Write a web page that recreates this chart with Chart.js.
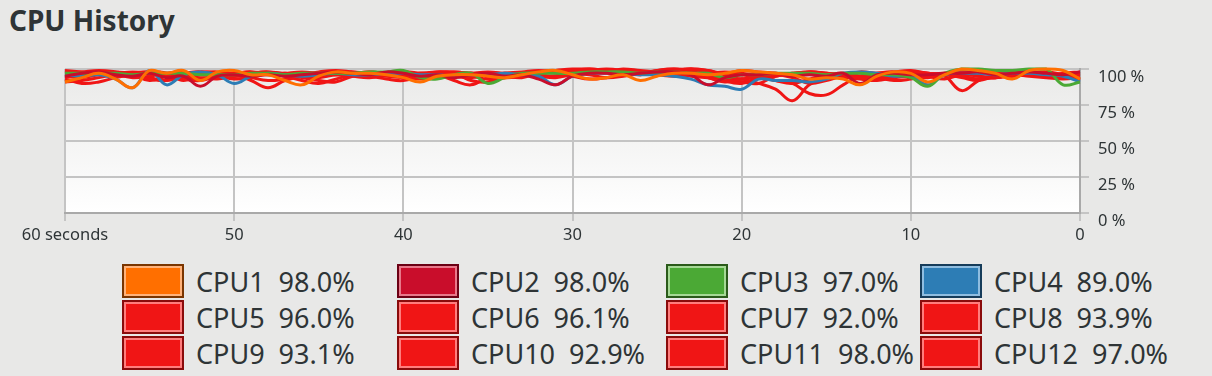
<!DOCTYPE html>
<html>
<head>
<meta charset="utf-8">
<script src="https://cdn.jsdelivr.net/npm/chart.js@4/dist/chart.umd.min.js"></script>
<style>
  body { margin: 0; width: 1212px; height: 376px; background: #e8e8e7; font-family: "Noto Sans", sans-serif; color: #2e3436; overflow: hidden; position: relative; }
  h1 { position: absolute; left: 9px; top: 1px; margin: 0; font-size: 28px; font-weight: bold; }
  #wrap { position: absolute; left: 0; top: 50px; width: 1212px; height: 200px; }
  .item { position: absolute; display: flex; align-items: center; height: 34px; font-size: 27px; white-space: nowrap; }
  .swatch { width: 62px; height: 34px; box-sizing: border-box; border: 2px solid; margin-right: 12px; }
  .val { margin-left: 14px; }
</style>
</head>
<body>
<h1>CPU History</h1>
<div id="wrap"><canvas id="cpu-chart"></canvas></div>
<div id="legend"></div>
<script>
const seconds = [60,59,58,57,56,55,54,53,52,51,50,49,48,47,46,45,44,43,42,41,40,39,38,37,36,35,34,33,32,31,30,29,28,27,26,25,24,23,22,21,20,19,18,17,16,15,14,13,12,11,10,9,8,7,6,5,4,3,2,1,0];
const xTicks = [60, 50, 40, 30, 20, 10, 0];
const yTicks = [0, 25, 50, 75, 100];

const cpuNames = ["CPU1", "CPU2", "CPU3", "CPU4", "CPU5", "CPU6", "CPU7", "CPU8", "CPU9", "CPU10", "CPU11", "CPU12"];
const current = [98.0, 98.0, 97.0, 89.0, 96.0, 96.1, 92.0, 93.9, 93.1, 92.9, 98.0, 97.0];

const cpu1 = [91, 94, 97, 93, 87, 99, 97, 99, 92, 98,
  99, 96, 96, 92, 89, 95, 98, 97, 97, 96,
  94, 91, 95, 96, 96, 95, 94, 96, 98, 99,
  96, 93, 94, 96, 92, 95, 97, 97, 96, 97,
  99, 98, 97, 96, 93, 94, 93, 89, 95, 98,
  97, 91, 96, 100, 99, 97, 93, 99, 100, 99,
  93];
const cpu2 = [95, 97, 98, 96, 95, 97, 94, 95, 88, 95,
  96, 95, 96, 95, 96, 97, 98, 97, 96, 98,
  97, 95, 96, 94, 96, 97, 95, 96, 93, 89,
  95, 97, 97, 96, 97, 98, 98, 96, 89, 94,
  96, 96, 97, 95, 96, 95, 97, 90, 96, 97,
  96, 96, 97, 97, 98, 96, 97, 98, 97, 96,
  98];
const cpu3 = [97, 97, 97, 97, 96, 97, 97, 97, 96, 96,
  96, 97, 97, 96, 97, 97, 97, 97, 98, 98,
  99, 94, 93, 96, 97, 90, 94, 97, 97, 97,
  97, 98, 98, 98, 97, 98, 98, 97, 97, 94,
  96, 96, 97, 97, 97, 96, 97, 97, 96, 96,
  94, 88, 97, 100, 100, 99, 99, 100, 100, 89,
  91];
const cpu4 = [96, 95, 96, 93, 87, 99, 89, 96, 98, 96,
  90, 95, 97, 96, 95, 96, 97, 96, 96, 97,
  97, 96, 96, 95, 96, 96, 97, 96, 95, 89,
  95, 97, 97, 97, 96, 96, 95, 93, 89, 88,
  86, 93, 92, 92, 91, 93, 97, 98, 97, 95,
  95, 89, 96, 97, 97, 96, 97, 97, 96, 95,
  91];
const cpu5 = [99, 98, 97, 98, 97, 98, 97, 92, 97, 98,
  97, 98, 96, 97, 98, 97, 96, 97, 98, 97,
  96, 97, 98, 98, 97, 96, 97, 98, 99, 98,
  97, 98, 99, 99, 98, 97, 99, 100, 99, 97,
  99, 98, 97, 96, 98, 97, 96, 98, 97, 98,
  99, 97, 96, 98, 97, 98, 99, 98, 97, 96,
  96];
const cpu6 = [91, 92, 94, 96, 95, 93, 92, 95, 97, 96,
  95, 97, 98, 96, 94, 92, 91, 95, 97, 96,
  95, 97, 96, 92, 89, 94, 96, 97, 98, 97,
  95, 93, 94, 96, 97, 98, 99, 97, 94, 91,
  93, 95, 96, 94, 90, 92, 95, 94, 93, 96,
  97, 95, 93, 96, 95, 94, 96, 97, 95, 94,
  96];
const cpu7 = [96, 95, 97, 96, 94, 95, 97, 98, 96, 95,
  93, 94, 97, 96, 95, 96, 97, 98, 96, 95,
  94, 93, 95, 96, 97, 98, 97, 96, 95, 94,
  96, 97, 98, 97, 96, 99, 100, 99, 95, 94,
  93, 90, 86, 78, 89, 94, 95, 93, 92, 94,
  95, 96, 97, 95, 93, 94, 95, 96, 97, 95,
  92];
const cpu8 = [93, 90, 91, 94, 96, 97, 96, 95, 94, 93,
  95, 96, 97, 95, 92, 90, 93, 96, 97, 96,
  97, 95, 94, 95, 97, 96, 94, 95, 97, 98,
  97, 96, 94, 95, 97, 99, 100, 98, 94, 92,
  93, 94, 92, 90, 83, 82, 89, 95, 94, 92,
  93, 95, 96, 94, 92, 95, 96, 95, 94, 93,
  94];
const cpu9 = [94, 96, 98, 97, 95, 94, 92, 96, 98, 97,
  96, 94, 92, 93, 95, 97, 96, 95, 94, 96,
  98, 97, 96, 95, 94, 96, 97, 97, 96, 95,
  98, 99, 100, 99, 97, 96, 95, 96, 97, 98,
  97, 95, 92, 90, 93, 96, 97, 95, 94, 96,
  98, 97, 95, 85, 92, 96, 98, 97, 96, 95,
  93];
const cpu10 = [98, 97, 96, 95, 97, 98, 96, 93, 92, 95,
  97, 98, 97, 96, 95, 94, 96, 97, 98, 97,
  96, 95, 97, 98, 97, 96, 95, 94, 97, 98,
  99, 100, 99, 98, 96, 98, 99, 100, 99, 96,
  96, 94, 95, 97, 98, 97, 96, 95, 97, 98,
  96, 95, 97, 98, 97, 96, 95, 97, 98, 96,
  93];
const cpu11 = [97, 98, 99, 98, 96, 92, 95, 97, 98, 96,
  95, 97, 98, 97, 96, 98, 99, 98, 97, 96,
  95, 96, 98, 97, 92, 91, 95, 97, 98, 99,
  100, 100, 99, 98, 97, 98, 99, 100, 97, 92,
  90, 94, 96, 97, 98, 97, 95, 94, 96, 97,
  98, 97, 96, 95, 97, 98, 97, 96, 95, 97,
  98];
const cpu12 = [95, 94, 96, 97, 98, 97, 95, 94, 93, 95,
  96, 92, 87, 92, 95, 96, 97, 96, 95, 93,
  92, 95, 97, 96, 95, 93, 94, 96, 98, 99,
  98, 97, 98, 100, 99, 98, 97, 95, 94, 93,
  91, 90, 95, 96, 97, 96, 94, 95, 96, 97,
  95, 94, 96, 97, 95, 94, 96, 97, 96, 95,
  97];

const series = [cpu1, cpu2, cpu3, cpu4, cpu5, cpu6, cpu7, cpu8, cpu9, cpu10, cpu11, cpu12];

// line colour, swatch outer border, swatch inner highlight
const red = ["#f01515", "#8a0b0b", "#ff7d7d"];
const colors = [
  ["#ff6f00", "#7a3500", "#ffb27a"],
  ["#c90d2b", "#6b0014", "#e8788a"],
  ["#4ba935", "#2a5a1a", "#a5d895"],
  ["#2d7db5", "#163c5a", "#8fbde0"],
  red, red, red, red, red, red, red, red
];

const datasets = series.map((d, i) => ({
  label: cpuNames[i],
  data: d,
  borderColor: colors[i][0],
  borderWidth: 3,
  pointRadius: 0,
  tension: 0.4,
  fill: false,
  clip: false
}));

const plotBackground = {
  id: "plotBackground",
  beforeDraw(chart) {
    const { ctx, chartArea: a } = chart;
    const g = ctx.createLinearGradient(0, a.top, 0, a.bottom);
    g.addColorStop(0, "#e9e9e8");
    g.addColorStop(1, "#ffffff");
    ctx.save();
    ctx.fillStyle = g;
    ctx.fillRect(a.left, a.top, a.right - a.left, a.bottom - a.top);
    ctx.restore();
  }
};

const config = {
  type: "line",
  data: { labels: seconds, datasets: datasets },
  options: {
    responsive: true,
    maintainAspectRatio: false,
    animation: false,
    layout: { padding: { left: 65, top: 19, right: 0, bottom: 0 } },
    plugins: { legend: { display: false }, tooltip: { enabled: false } },
    scales: {
      x: {
        type: "linear",
        reverse: true,
        min: 0,
        max: 60,
        afterBuildTicks: s => { s.ticks = xTicks.map(v => ({ value: v })); },
        afterFit: s => { s.height = 37; },
        grid: { color: "#c4c4c4", lineWidth: 2, tickLength: 8 },
        border: { color: "#a9a9a9", width: 2 },
        ticks: {
          maxRotation: 0,
          autoSkip: false,
          padding: 4,
          color: "#2e3436",
          font: { family: "Noto Sans", size: 16.5 },
          callback: v => v === 60 ? "60 seconds" : String(v)
        }
      },
      y: {
        position: "right",
        min: 0,
        max: 100,
        afterBuildTicks: s => { s.ticks = yTicks.map(v => ({ value: v })); },
        afterFit: s => { s.width = 132; },
        grid: { color: "#c4c4c4", lineWidth: 2, tickLength: 9 },
        border: { color: "#a9a9a9", width: 2 },
        ticks: {
          padding: 9,
          labelOffset: 8,
          color: "#2e3436",
          font: { family: "Noto Sans", size: 16.5 },
          callback: v => v + " %"
        }
      }
    }
  },
  plugins: [plotBackground]
};

const myChart = new Chart(document.getElementById("cpu-chart"), config);

// legend: 4 columns x 3 rows, like the system monitor
const colX = [122, 397, 666, 920];
const rowY = [264, 300, 336];
const legend = document.getElementById("legend");
cpuNames.forEach((name, i) => {
  const item = document.createElement("div");
  item.className = "item";
  item.style.left = colX[i % 4] + "px";
  item.style.top = rowY[Math.floor(i / 4)] + "px";
  const sw = document.createElement("div");
  sw.className = "swatch";
  sw.style.background = colors[i][0];
  sw.style.borderColor = colors[i][1];
  sw.style.boxShadow = "inset 0 0 0 2px " + colors[i][2];
  const n = document.createElement("span");
  n.textContent = name;
  const v = document.createElement("span");
  v.className = "val";
  v.textContent = current[i].toFixed(1) + "%";
  item.appendChild(sw);
  item.appendChild(n);
  item.appendChild(v);
  legend.appendChild(item);
});
</script>
</body>
</html>
